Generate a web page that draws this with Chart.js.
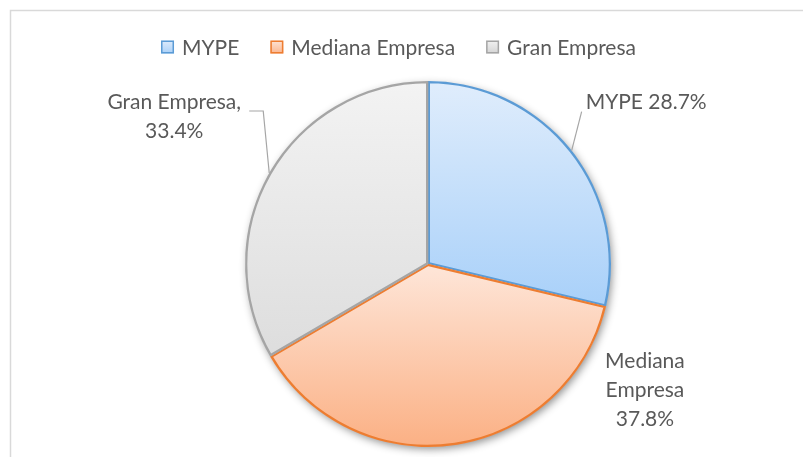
<!DOCTYPE html>
<html><head><meta charset="utf-8">
<script src="https://cdn.jsdelivr.net/npm/chart.js@4.4.1/dist/chart.umd.min.js"></script>
<style>html,body{margin:0;padding:0;background:#fff}#wrap{width:803px;height:457px;position:relative}</style>
</head><body><div id="wrap"><canvas id="c"></canvas></div>
<script>
// ---- data ----
const categories = ['MYPE', 'Mediana Empresa', 'Gran Empresa'];
const shares = [28.7, 37.8, 33.4];

// ---- style ----
const FONT = 'Lato';
const TEXT_COLOR = '#595959';
const borderColors = ['#5b9bd5', '#ed7d31', '#a5a5a5'];
const gradStops = [
  [[0, '#e0edfc'], [0.62, '#a8d0f9'], [1, '#9cc9f8']],
  [[0, '#fff0e8'], [0.5, '#fee6d9'], [1, '#fbb084']],
  [[0, '#f3f3f3'], [1, '#d6d6d6']]
];
const legendStops = [['#deebfb', '#a9d0f8'], ['#fde4d6', '#fbb58e'], ['#f2f2f2', '#d4d4d4']];

// label text built from data
const fmt = v => v.toFixed(1) + '%';
const labelLines = [
  [categories[0] + ' ' + fmt(shares[0])],
  [...categories[1].split(' '), fmt(shares[1])],
  [categories[2] + ',', fmt(shares[2])]
];
// placement relative to the slice's rim mid-point
const labelPlacement = [
  {dx: 14, dy: -48, align: 'left', leader: [[10, -39]]},
  {dx: 190, dy: -84, align: 'center', leader: null},
  {dx: -95, dy: -71, align: 'center', leader: [[-6, -62], [-20, -62]]}
];
const LINE_H = 29;

function sliceGradient(ctx, i) {
  const chart = ctx.chart;
  const a = chart.chartArea;
  if (!a) return borderColors[i];
  const g = chart.ctx.createLinearGradient(0, a.top, 0, a.bottom);
  gradStops[i].forEach(s => g.addColorStop(s[0], s[1]));
  return g;
}

const framePlugin = {
  id: 'frame',
  beforeDraw(chart) {
    const c = chart.ctx;
    c.save();
    c.fillStyle = '#fff';
    c.fillRect(0, 0, chart.width, chart.height);
    c.strokeStyle = '#d9d9d9';
    c.lineWidth = 1.5;
    c.strokeRect(10.5, 10.5, chart.width, chart.height);
    c.restore();
  }
};

const shadowPlugin = {
  id: 'pieShadow',
  beforeDatasetsDraw(chart) {
    const arc = chart.getDatasetMeta(0).data[0];
    if (!arc) return;
    const {x, y, outerRadius} = arc.getProps(['x', 'y', 'outerRadius'], true);
    const c = chart.ctx;
    c.save();
    c.shadowColor = 'rgba(0,0,0,0.45)';
    c.shadowBlur = 8;
    c.shadowOffsetX = 2;
    c.shadowOffsetY = 3;
    c.fillStyle = '#fff';
    c.beginPath();
    c.arc(x, y, outerRadius - 1, 0, Math.PI * 2);
    c.fill();
    c.restore();
  }
};

const labelPlugin = {
  id: 'sliceLabels',
  afterDatasetsDraw(chart) {
    const c = chart.ctx;
    const meta = chart.getDatasetMeta(0);
    c.save();
    c.font = '21px ' + FONT;
    c.fillStyle = TEXT_COLOR;
    c.textBaseline = 'middle';
    meta.data.forEach((arc, i) => {
      const {x, y, startAngle, endAngle, outerRadius} = arc.getProps(['x', 'y', 'startAngle', 'endAngle', 'outerRadius'], true);
      const mid = (startAngle + endAngle) / 2;
      const px = x + Math.cos(mid) * outerRadius;
      const py = y + Math.sin(mid) * outerRadius;
      const p = labelPlacement[i];
      if (p.leader) {
        c.strokeStyle = '#a6a6a6';
        c.lineWidth = 1.2;
        c.beginPath();
        c.moveTo(px, py);
        p.leader.forEach(pt => c.lineTo(px + pt[0], py + pt[1]));
        c.stroke();
      }
      c.textAlign = p.align;
      labelLines[i].forEach((t, k) => c.fillText(t, px + p.dx, py + p.dy + k * LINE_H));
    });
    c.restore();
  }
};

const legendPlugin = {
  id: 'topLegend',
  afterDraw(chart) {
    const c = chart.ctx;
    c.save();
    c.font = '21px ' + FONT;
    c.textBaseline = 'middle';
    c.textAlign = 'left';
    const box = 13, gapText = 8, gapItem = 31, yMid = 47;
    const labels = chart.data.labels;
    const widths = labels.map(t => box + gapText + c.measureText(t).width);
    const total = widths.reduce((a, b) => a + b, 0) + gapItem * (labels.length - 1);
    let x = chart.width / 2 - 3 - total / 2;
    labels.forEach((t, i) => {
      const top = yMid - box / 2;
      const g = c.createLinearGradient(0, top, 0, top + box);
      g.addColorStop(0, legendStops[i][0]);
      g.addColorStop(1, legendStops[i][1]);
      c.fillStyle = g;
      c.fillRect(x, top, box, box);
      c.strokeStyle = borderColors[i];
      c.lineWidth = 1.5;
      c.strokeRect(x + 0.75, top + 0.75, box - 1.5, box - 1.5);
      c.fillStyle = TEXT_COLOR;
      c.fillText(t, x + box + gapText, yMid + 1);
      x += widths[i] + gapItem;
    });
    c.restore();
  }
};

new Chart(document.getElementById('c'), {
  type: 'pie',
  data: {
    labels: categories,
    datasets: [{
      data: shares,
      backgroundColor: ctx => sliceGradient(ctx, ctx.dataIndex),
      borderColor: borderColors,
      borderWidth: 2,
      borderAlign: 'inner'
    }]
  },
  options: {
    responsive: true,
    maintainAspectRatio: false,
    animation: false,
    rotation: 0,
    layout: {padding: {left: 53, right: 0, top: 81, bottom: 10}},
    plugins: {
      legend: {display: false},
      tooltip: {enabled: false}
    }
  },
  plugins: [framePlugin, shadowPlugin, labelPlugin, legendPlugin]
});
</script>
</body></html>
